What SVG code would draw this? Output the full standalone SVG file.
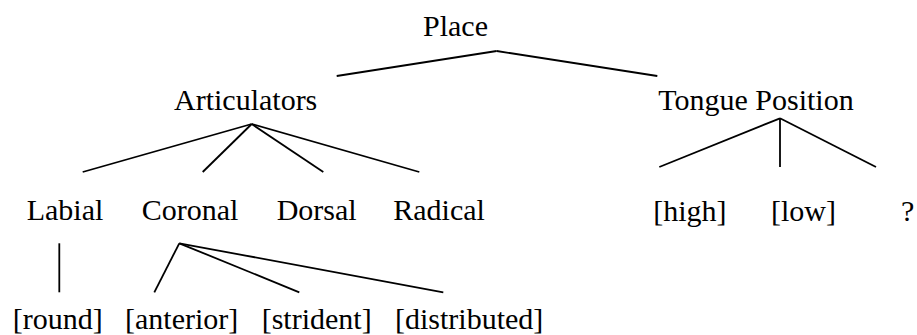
<svg xmlns="http://www.w3.org/2000/svg" width="917" height="335" viewBox="0 0 917 335">
<style>
text{font-family:"Liberation Serif","Times New Roman",serif;font-size:30px;fill:#000}
.e line{stroke:#000;stroke-width:1.8;stroke-linecap:butt}
</style>
<rect width="917" height="335" fill="#fff"/>
<g class="e" id="connectors">
<line x1="496.7" y1="51" x2="336.7" y2="76"/>
<line x1="496.7" y1="51" x2="657.3" y2="76"/>
<line x1="251.7" y1="124" x2="82.7" y2="172"/>
<line x1="251.7" y1="124" x2="202.7" y2="172"/>
<line x1="251.7" y1="124" x2="323.3" y2="172"/>
<line x1="251.7" y1="124" x2="419.3" y2="172"/>
<line x1="780" y1="118.3" x2="659.3" y2="167"/>
<line x1="780" y1="118.3" x2="780" y2="167"/>
<line x1="780" y1="118.3" x2="876" y2="167"/>
<line x1="59.3" y1="243.3" x2="59.3" y2="292.3"/>
<line x1="179.3" y1="243.3" x2="154.3" y2="292.3"/>
<line x1="179.3" y1="243.3" x2="299.3" y2="292.3"/>
<line x1="179.3" y1="243.3" x2="443.3" y2="292.3"/>
</g>
<g id="place"><text x="423" y="36">Place</text></g>
<g id="articulators"><text x="174" y="110">Articulators</text></g>
<g id="tongue-position"><text x="658.3" y="109.5">Tongue Position</text></g>
<g id="labial"><text x="26.7" y="220">Labial</text></g>
<g id="coronal"><text x="141.7" y="220">Coronal</text></g>
<g id="dorsal"><text x="276.7" y="220">Dorsal</text></g>
<g id="radical"><text x="393.3" y="220">Radical</text></g>
<g id="high"><text x="653.3" y="221">[high]</text></g>
<g id="low"><text x="771" y="221">[low]</text></g>
<g id="unknown"><text x="901" y="221">?</text></g>
<g id="round"><text x="12.7" y="329">[round]</text></g>
<g id="anterior"><text x="125" y="329">[anterior]</text></g>
<g id="strident"><text x="261.7" y="329">[strident]</text></g>
<g id="distributed"><text x="395" y="329">[distributed]</text></g>
</svg>
